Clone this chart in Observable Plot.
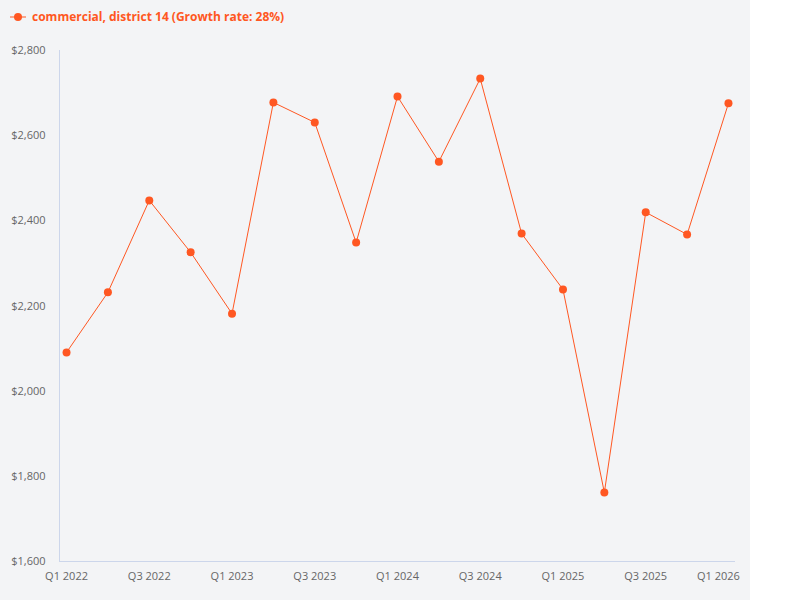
<!DOCTYPE html>
<html><head><meta charset="utf-8">
<script src="https://cdn.jsdelivr.net/npm/d3@7"></script>
<script src="https://cdn.jsdelivr.net/npm/@observablehq/plot@0.6"></script>
<style>
html,body{margin:0;padding:0;background:#fff;}
#wrap{position:relative;width:750px;height:600px;background:#f3f4f6;font-family:"Open Sans",sans-serif;}
#legend{position:absolute;left:10px;top:8px;display:flex;align-items:center;font-size:12px;font-weight:bold;color:#ff5722;white-space:nowrap;}
#legend svg{margin-right:6px;}
#chart{position:absolute;left:0;top:0;}
</style>
</head><body>
<div id="wrap">
<div id="chart"></div>
<div id="legend"><svg width="16" height="12"><line x1="0" y1="6" x2="16" y2="6" stroke="#ff5722" stroke-width="1"/><circle cx="8" cy="6" r="4" fill="#ff5722"/></svg>commercial, district 14 (Growth rate: 28%)</div>
</div>
<script>
const quarters = ["Q1 2022","Q2 2022","Q3 2022","Q4 2022","Q1 2023","Q2 2023","Q3 2023","Q4 2023","Q1 2024","Q2 2024","Q3 2024","Q4 2024","Q1 2025","Q2 2025","Q3 2025","Q4 2025","Q1 2026"];
const values = [2091,2232,2448,2326,2182,2678,2631,2349,2692,2539,2734,2370,2239,1762,2420,2368,2676];
const yTicks = [1600,1800,2000,2200,2400,2600,2800];
const color = "#ff5722";
const data = quarters.map((q,i)=>({i, q, v: values[i]}));
const xMin = -0.17, xMax = 16.17;
const plot = Plot.plot({
  width: 750, height: 600,
  marginTop: 50, marginBottom: 39, marginLeft: 59, marginRight: 15,
  style: {background: "transparent", fontFamily: "'Open Sans', sans-serif", fontSize: "11px", color: "#666"},
  x: {domain: [xMin, xMax]},
  y: {domain: [1600, 2800]},
  marks: [
    Plot.axisX({ticks: d3.range(0, 15, 2), tickFormat: i => quarters[i], tickSize: 0, tickPadding: 11, label: null, fill: "#666", fontSize: 11}),
    Plot.axisX({ticks: [16], tickFormat: i => quarters[i], tickSize: 0, tickPadding: 11, label: null, fill: "#666", fontSize: 11, dx: -10}),
    Plot.axisY({ticks: yTicks, tickFormat: d => "$" + d3.format(",")(d), tickSize: 0, tickPadding: 14, label: null, fill: "#666", fontSize: 11}),
    Plot.ruleX([xMin], {stroke: "#ccd6eb", strokeWidth: 1}),
    Plot.ruleY([1600], {stroke: "#ccd6eb", strokeWidth: 1}),
    Plot.line(data, {x: "i", y: "v", stroke: color, strokeWidth: 1}),
    Plot.dot(data, {x: "i", y: "v", r: 4, fill: color, stroke: "none"})
  ]
});
document.getElementById("chart").appendChild(plot);
</script>
</body></html>
